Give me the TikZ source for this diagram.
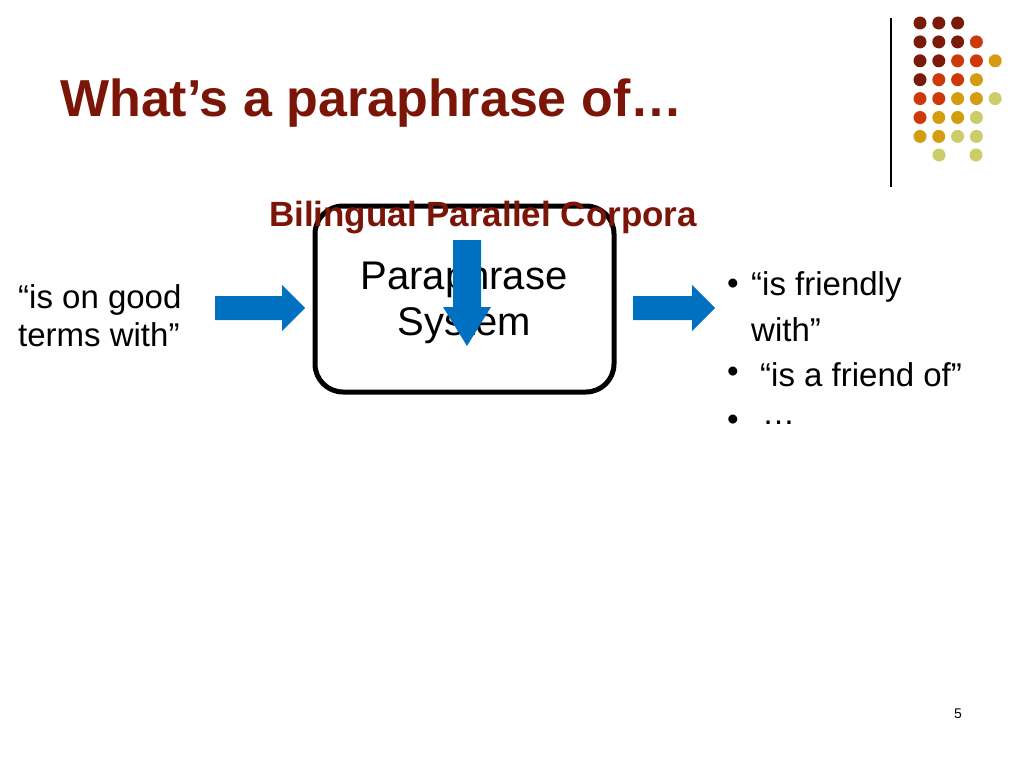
\documentclass[tikz,border=0pt]{standalone}
\usepackage{fontspec}
\setmainfont{Liberation Sans}
\definecolor{darkred}{HTML}{7A1508}
\definecolor{dotD}{HTML}{7A1A0A}
\definecolor{dotR}{HTML}{CC3A0C}
\definecolor{dotO}{HTML}{D49C10}
\definecolor{dotY}{HTML}{CCCC6A}
\definecolor{arrowblue}{HTML}{0070C0}
\tikzset{
  dot/.style={circle,inner sep=0pt,minimum size=13pt},
  txt/.style={font=\fontsize{33}{38}\selectfont,align=left,anchor=west,inner sep=0pt},
  blue arrow/.style={fill=arrowblue,draw=none}
}
\begin{document}
\begin{tikzpicture}[x=1pt,y=-1pt]
\useasboundingbox (0,0) rectangle (1024,768);
% dot grid
\foreach \c [count=\r] in {{D,D,D},{D,D,D,R},{D,D,R,R,O},{D,R,R,O},{R,R,O,O,Y},{R,O,O,Y},{O,O,Y,Y}}
  \foreach \k [count=\i] in \c
    \node[dot,fill=dot\k] at ({920+18.8*(\i-1)},{23+18.9*(\r-1)}) {};
\node[dot,fill=dotY] at (939,155) {};
\node[dot,fill=dotY] at (976,155) {};
\draw[line width=1.2pt] (891,18) -- (891,187);
% title
\node[anchor=west,inner sep=0pt,text=darkred,font=\bfseries\fontsize{52}{60}\selectfont] (title) at (60,103) {What’s a paraphrase of…};
% box
\draw[line width=5pt,rounded corners=28pt] (315,206) rectangle (614,392);
\node[font=\fontsize{40}{46}\selectfont,align=center] (sys) at (464,302) {Paraphrase\\System};
\node[text=darkred,font=\bfseries\fontsize{35}{40}\selectfont] (corp) at (483,218) {Bilingual Parallel Corpora};
% arrows
\fill[blue arrow] (215,296) -- (282,296) -- (282,285) -- (305,308) -- (282,331) -- (282,320) -- (215,320) -- cycle;
\fill[blue arrow] (633,296) -- (692,296) -- (692,285) -- (715,308) -- (692,331) -- (692,320) -- (633,320) -- cycle;
\fill[blue arrow] (453,240) -- (481,240) -- (481,307) -- (491,307) -- (467,346) -- (443,307) -- (453,307) -- cycle;
% input / output
\node[txt] (in) at (18,316) {“is on good\\terms with”};
\node[txt] (b1) at (727,287) {•};
\node[txt] (o1) at (751,287) {“is friendly};
\node[txt] (o1b) at (751,330) {with”};
\node[txt] (b2) at (727,375) {•};
\node[txt] (o2) at (760,375) {“is a friend of”};
\node[txt] (b3) at (727,423) {•};
\node[txt] (o3) at (762,423) {…};
\node[font=\fontsize{14}{16}\selectfont] (pg) at (958,714) {5};
\end{tikzpicture}
\end{document}
